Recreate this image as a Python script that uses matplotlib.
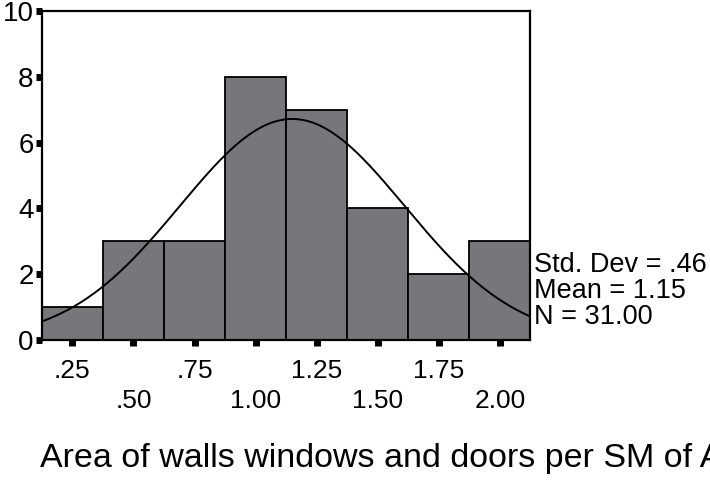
import numpy as np
import matplotlib
matplotlib.use("Agg")
import matplotlib.pyplot as plt

# Histogram counts per 0.25-wide bin, centred on the tick values
bin_centers = [0.25, 0.50, 0.75, 1.00, 1.25, 1.50, 1.75, 2.00]
counts = [1, 3, 3, 8, 7, 4, 2, 3]
tick_labels = [".25", ".50", ".75", "1.00", "1.25", "1.50", "1.75", "2.00"]
y_ticks = [0, 2, 4, 6, 8, 10]

std_dev = 0.46
mean = 1.15
n = 31
bin_width = 0.25

plt.rcParams["font.family"] = ["Liberation Sans", "DejaVu Sans"]

fig = plt.figure(figsize=(7.10, 4.87), dpi=100)
ax = fig.add_axes([0.059, 0.302, 0.688, 0.675])

ax.bar(bin_centers, counts, width=bin_width, color="#77777b",
       edgecolor="black", linewidth=1.3, zorder=2)

# Fitted normal curve scaled to the histogram
x0 = bin_centers[0] - bin_width / 2
x1 = bin_centers[-1] + bin_width / 2
xs = np.linspace(x0, x1, 300)
ys = n * bin_width / (std_dev * np.sqrt(2 * np.pi)) * np.exp(-0.5 * ((xs - mean) / std_dev) ** 2)
ax.plot(xs, ys, color="black", linewidth=1.4, zorder=3)

ax.set_xlim(x0, x1)
ax.set_ylim(0, 10)

for s in ax.spines.values():
    s.set_linewidth(1.6)

# Staggered x tick labels: odd bins on the first row, even bins lower
ax.set_xticks(bin_centers[0::2])
ax.set_xticklabels(tick_labels[0::2])
ax.set_xticks(bin_centers[1::2], minor=True)
ax.set_xticklabels(tick_labels[1::2], minor=True)
ax.tick_params(axis="x", which="major", length=4, width=5, pad=10, labelsize=19)
ax.tick_params(axis="x", which="minor", length=4, width=5, pad=31, labelsize=19)

ax.set_yticks(y_ticks)
ax.tick_params(axis="y", length=4, width=5, pad=2, labelsize=20)

stats = f"Std. Dev = {std_dev:.2f}".replace("0.", ".") + "\n" + \
        f"Mean = {mean:.2f}\nN = {n:.2f}"
ax.text(1.008, 0.03, stats, transform=ax.transAxes, ha="left", va="bottom",
        fontsize=19.5, linespacing=1.0)

fig.text(0.056, 0.058, "Area of walls windows and doors per SM of Area",
         ha="left", va="center", fontsize=24.5)

fig.savefig("out.png", dpi=100)
